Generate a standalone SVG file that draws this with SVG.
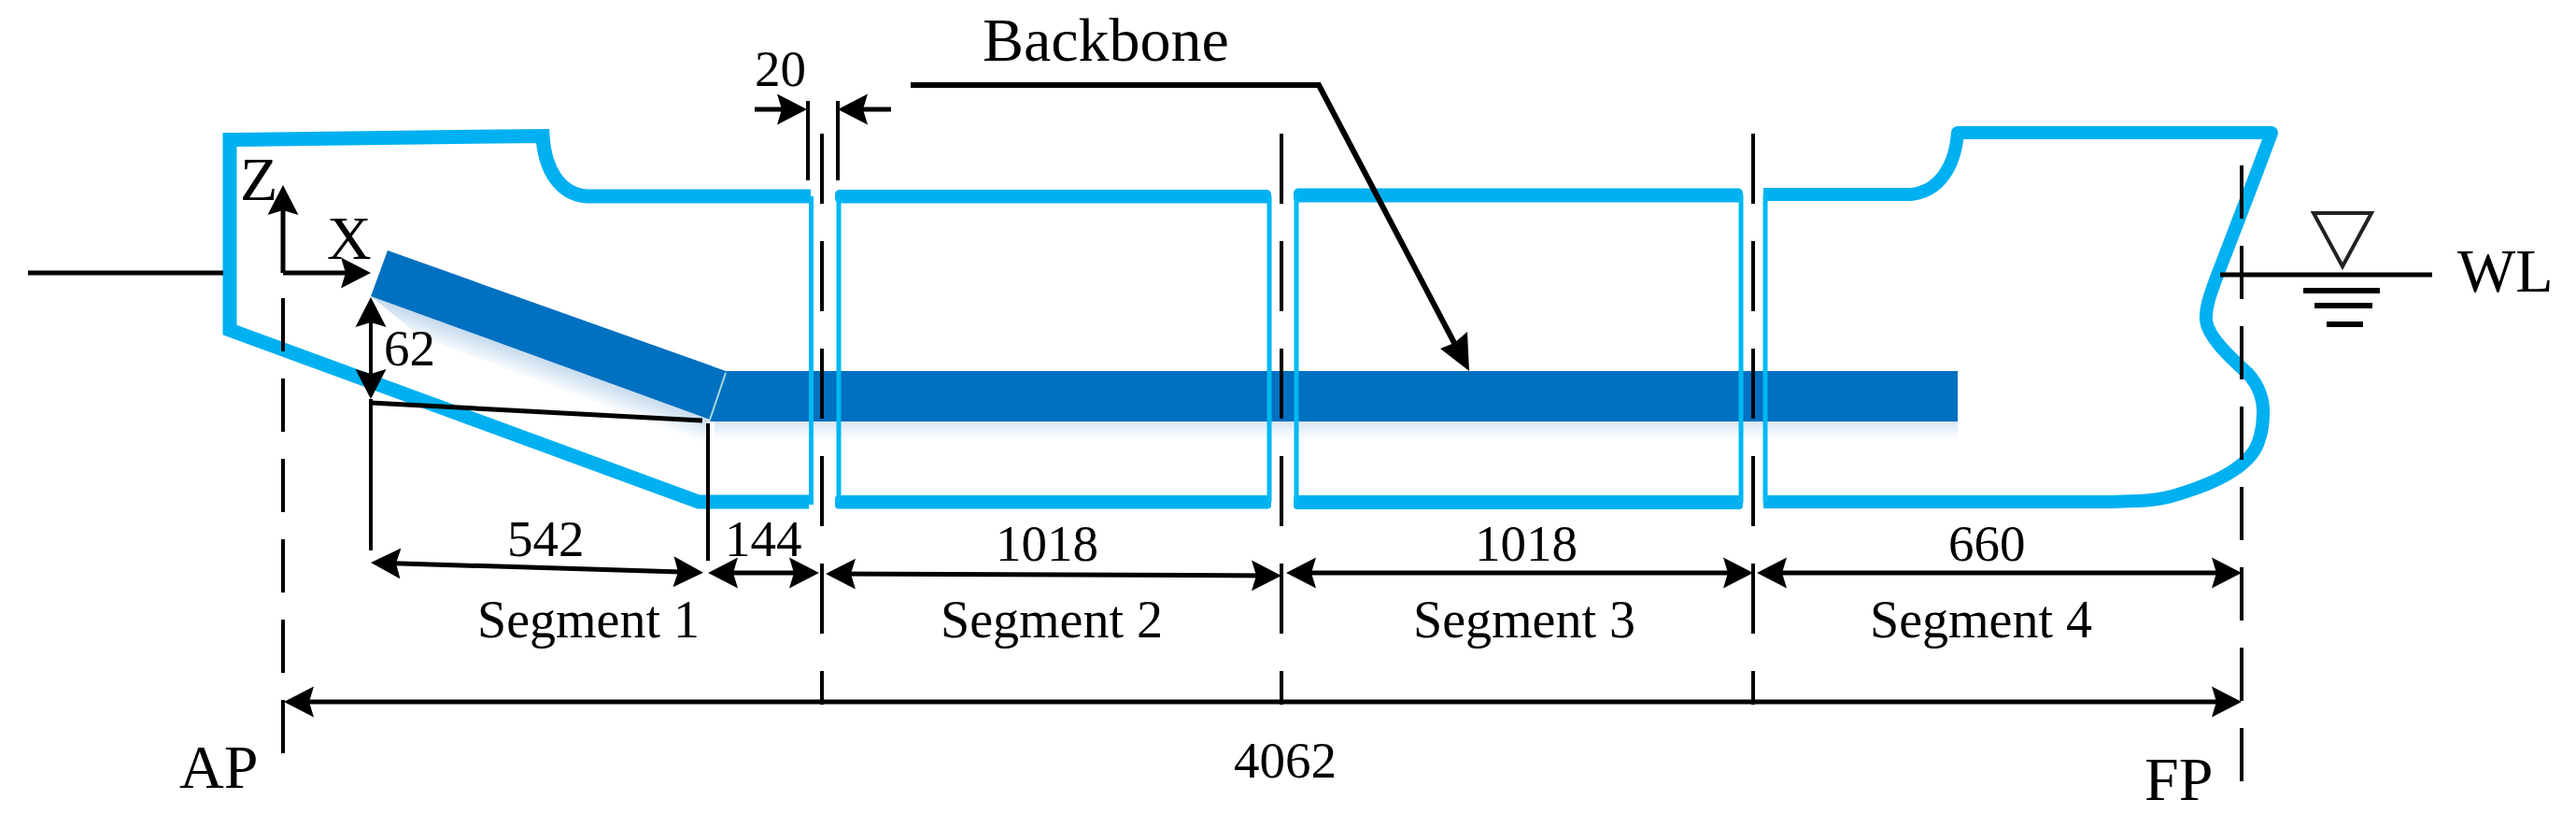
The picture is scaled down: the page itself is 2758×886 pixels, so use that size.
<svg xmlns="http://www.w3.org/2000/svg" width="2758" height="886" viewBox="0 0 2758 886">
<style>
text{font-family:"Liberation Serif","Times New Roman",serif;fill:#000}
.big{font-size:66px}.mid{font-size:55px}.seg{font-size:56px}
.hull{fill:none;stroke:#00B0F0;stroke-width:15;stroke-linejoin:miter}
.thin{fill:none;stroke:#00B8F2;stroke-width:5}
.bar{fill:#00B0F0}
.dash{fill:none;stroke:#000;stroke-width:4}
.cl{stroke-dasharray:75 40}
.pl{stroke-dasharray:57 29}
.dim{fill:none;stroke:#000;stroke-width:5;marker-start:url(#a);marker-end:url(#a)}
.one{fill:none;stroke:#000;stroke-width:5;marker-end:url(#a)}
.ln{fill:none;stroke:#000;stroke-width:5}
</style>
<defs>
<marker id="a" markerUnits="userSpaceOnUse" markerWidth="34" markerHeight="34" refX="24" refY="17" orient="auto-start-reverse"><path d="M0 0.5L32 17L0 33.5L5 17Z" fill="#000"/></marker>
<linearGradient id="sh1" gradientUnits="userSpaceOnUse" x1="0" y1="451" x2="0" y2="470"><stop offset="0" stop-color="#d8e6f4"/><stop offset="1" stop-color="#fff"/></linearGradient>
<linearGradient id="sh2" gradientUnits="userSpaceOnUse" x1="578" y1="383" x2="569" y2="408"><stop offset="0" stop-color="#c6dbee"/><stop offset="1" stop-color="#fff"/></linearGradient>
</defs>
<rect width="2758" height="886" fill="#fff"/>
<g id="backbone">
<polygon points="397,317 759,449 752,474 450,360" fill="url(#sh2)"/>
<rect x="765" y="451" width="1331" height="20" fill="url(#sh1)"/>
<polygon points="415,268 777,397 760,449 397,317" fill="#0070C0"/>
<polygon points="777,397 2096,397 2096,451 760,451" fill="#0070C0"/>
<line x1="777" y1="399" x2="760" y2="449" stroke="#a8d8d8" stroke-width="2"/>
</g>
<g id="segment-1">
<path class="hull" d="M868,210H628C600,208 583,182 581,145.500L246,149.500V353L748,537H866"/>
<line class="thin" x1="868.500" y1="210" x2="868.500" y2="540"/>
</g>
<g id="segment-2">
<rect class="bar" x="894" y="203" width="467" height="14.500" rx="5"/>
<rect class="bar" x="894" y="530" width="467" height="14.500" rx="4"/>
<path class="thin" d="M898,210V537M1359,210V537"/>
</g>
<g id="segment-3">
<rect class="bar" x="1385" y="201.500" width="481" height="15" rx="5"/>
<rect class="bar" x="1385" y="530" width="481" height="15" rx="4"/>
<path class="thin" d="M1388,209V538M1864,209V538"/>
</g>
<g id="segment-4">
<path class="hull" style="stroke-width:14;stroke-linejoin:round" d="M1888,208H2046C2075,205 2093,180 2096,142H2432C2420,175 2395,240 2373,297C2366,316 2361,330 2362,343C2364,360 2385,380 2407,400C2418,412 2424,428 2423,443C2423,460 2418,478 2410,487C2395,505 2370,516 2350,523C2330,530 2315,535 2290,536L2260,537H1888"/>
<line class="thin" x1="1890" y1="208" x2="1890" y2="538"/>
</g>
<g id="connectors">
<path class="ln" d="M30,292H239M2377,294H2604M397,431L752,450"/>
<path class="dash" d="M397,427V589M758,453V600M865,108V193M897,108V193"/>
<path class="dash cl" d="M880,143V754M1372,143V754M1877,143V754"/>
<path class="dash pl" d="M303,319V809M2400,177V841"/>
<path class="one" d="M303,292V206"/>
<path class="one" d="M303,292H389"/>
<path class="dim" style="stroke-width:4" d="M397,326V419"/>
<path class="dim" d="M405,602.200L745,612.500"/>
<path class="dim" d="M766,613H869"/>
<path class="dim" d="M892,614L1364,616"/>
<path class="dim" d="M1385,613H1869"/>
<path class="dim" d="M1889,613H2392"/>
<path class="dim" d="M312,751H2392"/>
<path class="one" d="M808,117H856"/>
<path class="one" d="M954,117H905"/>
<path class="ln" style="stroke-width:6" d="M975,91H1412L1566,384"/>
<polygon points="1573,397 1571,355 1557,367 1542,373" fill="#000"/>
<polygon points="2477,228 2539,228 2508,285" fill="none" stroke="#222" stroke-width="4"/>
<path class="ln" style="stroke-width:6" d="M2466,311H2548M2478,327H2540M2491,347H2530"/>
</g>
<g id="labels">
<text class="big" x="1052" y="65">Backbone</text>
<text class="mid" x="808" y="92">20</text>
<text class="big" x="257" y="214">Z</text>
<text class="big" x="350" y="277">X</text>
<text class="mid" x="411" y="391">62</text>
<text class="mid" x="543" y="595">542</text>
<text class="mid" x="776" y="595">144</text>
<text class="mid" x="1066" y="600">1018</text>
<text class="mid" x="1579" y="600">1018</text>
<text class="mid" x="2086" y="600">660</text>
<text class="seg" x="511" y="682">Segment 1</text>
<text class="seg" x="1007" y="682">Segment 2</text>
<text class="seg" x="1513" y="682">Segment 3</text>
<text class="seg" x="2002" y="682">Segment 4</text>
<text class="big" x="192" y="843">AP</text>
<text class="mid" x="1321" y="832">4062</text>
<text class="big" x="2296" y="856">FP</text>
<text class="big" x="2631" y="312">WL</text>
</g>
</svg>
